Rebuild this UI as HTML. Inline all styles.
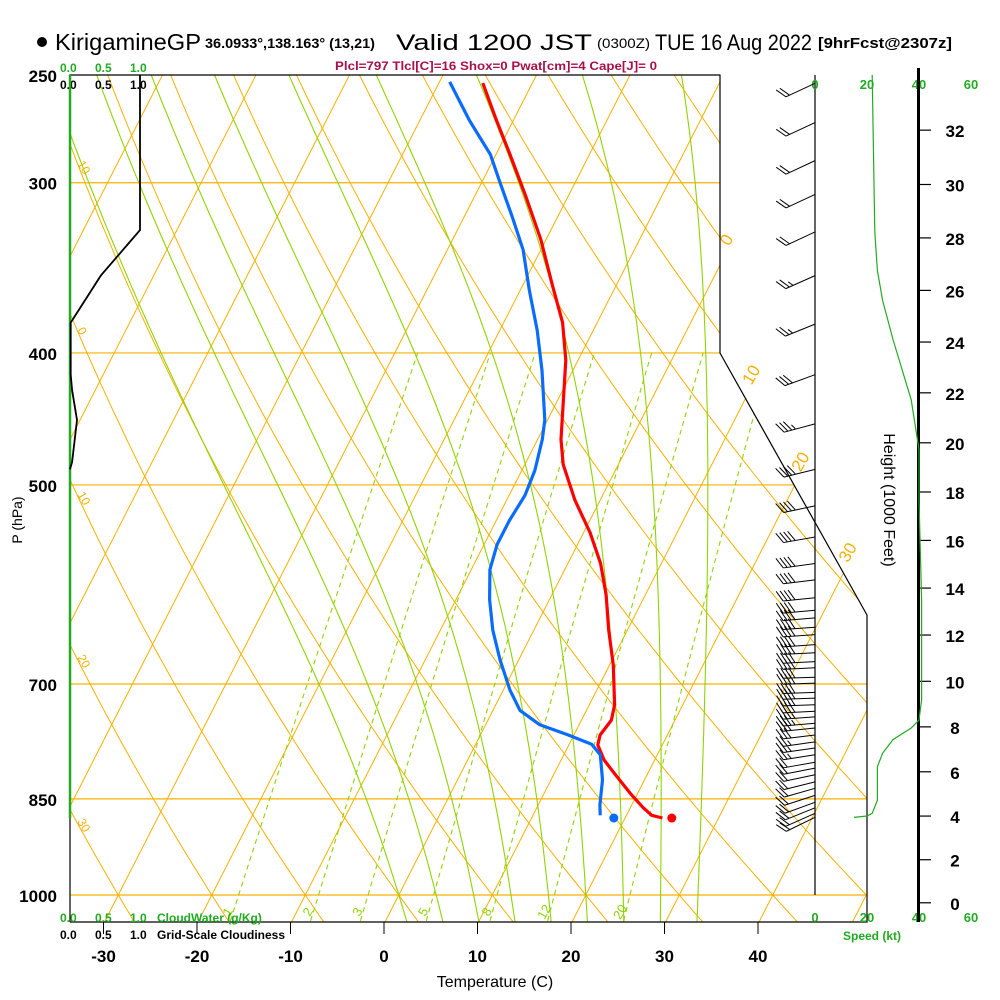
<!DOCTYPE html>
<html><head><meta charset="utf-8"><style>
html,body{margin:0;padding:0;background:#fff;}
svg{display:block;font-family:"Liberation Sans",sans-serif;}
</style></head><body>
<svg id="chart" width="1000" height="1000" viewBox="0 0 1000 1000" xmlns="http://www.w3.org/2000/svg">
<defs><clipPath id="plotclip"><polygon points="70,75 720,75 720,353 867,615 867,922 70,922"/></clipPath></defs>
<g id="header">
<circle cx="42" cy="42" r="5" fill="#000"/>
<text x="55" y="50" font-size="23" textLength="146" lengthAdjust="spacingAndGlyphs">KirigamineGP</text>
<text x="205" y="48" font-size="14" font-weight="bold" textLength="170" lengthAdjust="spacingAndGlyphs">36.0933°,138.163° (13,21)</text>
<text x="396" y="50" font-size="22" textLength="196" lengthAdjust="spacingAndGlyphs">Valid 1200 JST</text>
<text x="597" y="48" font-size="14" textLength="53" lengthAdjust="spacingAndGlyphs">(0300Z)</text>
<text x="655" y="50" font-size="22" textLength="157" lengthAdjust="spacingAndGlyphs">TUE 16 Aug 2022</text>
<text x="818" y="48" font-size="15" font-weight="bold" textLength="134" lengthAdjust="spacingAndGlyphs">[9hrFcst@2307z]</text>
<text x="335" y="70" font-size="12" font-weight="bold" fill="#a8104a" textLength="322" lengthAdjust="spacingAndGlyphs">Plcl=797 Tlcl[C]=16 Shox=0 Pwat[cm]=4 Cape[J]= 0</text>
</g>
<g id="grid" clip-path="url(#plotclip)"></g>
<g id="axes"></g>
<g id="series"></g>
<g id="winds"></g>
</svg>
<script>
// ---- data ----
const isobarLevels = [300, 400, 500, 700, 850, 1000];
const tempTicks = [-30, -20, -10, 0, 10, 20, 30, 40];
const isotherms = [-110,-100,-90,-80,-70,-60,-50,-40,-30,-20,-10,0,10,20,30,40,50];
const dryAdiabats = [-50,-40,-30,-20,-10,0,10,20,30,40,50,60,70,80,90,100,110,120,130];
const moistAdiabats = [0,4,8,12,16,20,24,28,32];
const mixingRatios = [1,2,3,5,8,12,20];
const mixingLabels = ["1","2","3","5","8","12","20"];
const tempP = [253.5,270,286,306,330,357,380,405,433,463,483,513,542,571,602,639,678,725,744,763,776,796,816,842,863,874,878];
const tempC = [-35.3,-31.8,-28.5,-24.7,-20.6,-16.8,-13.7,-11.3,-9.4,-7.5,-5.9,-2.7,0.7,3.5,5.8,8.0,10.4,12.7,13.2,12.8,13.1,14.6,16.6,19.2,21.4,22.7,24.0];
const dewP = [253,270,286,299,317,336,360,385,412,448,463,488,509,531,553,577,607,639,672,707,732,750,763,775,789,823,859,874];
const dewC = [-38.9,-34.7,-30.6,-28.2,-25.0,-21.9,-19.0,-16.0,-13.3,-10.3,-9.5,-8.6,-8.3,-8.6,-8.6,-8.0,-6.4,-4.4,-2.0,0.7,2.9,5.8,9.4,12.4,13.9,15.5,16.6,17.2];
const sfcP = 878;
const sfcTemp = 25.0;
const sfcDew = 18.8;
const windP = [253.6,271,289,306,326,351,381,415,451,487,518,546,571,587,605,618,626,636,644,655,664,674,681,692,699,710,717,725,733,740,748,754,763,772,780,789,799,807,816,826,835,845,855,863,871,877];
const windDir = [245,245,245,245,245,246,248,250,255,256,258,260,262,263,264,265,265,266,266,266,267,267,267,268,268,268,268,268,267,266,265,264,263,262,262,261,260,259,258,256,254,252,250,248,246,244];
const windSpd = [22,23,23,24,24,25,28,33,38,40,40,40,40,40,40,40,40,40,40,40,40,40,40,40,40,40,40,40,40,38,36,33,30,28,26,25,24,24,24,24,24,23,23,22,21,20];
const spdP = [250,326,348,366,391,433,471,513,607,719,744,754,769,787,805,852,871,875,877];
const spdKt = [22,23,24,26,30,37,40,40,41,41,40,37,30,26,24,24,22,20,15];
const cloudP = [250,325,351,380,415,426,448,481,487];
const cloudFrac = [1,1,0.44,0.01,0.01,0.03,0.1,0.03,0];
const heightTicks = [0,2,4,6,8,10,12,14,16,18,20,22,24,26,28,30,32];
const speedTicks = [0,20,40,60];
const isoLabelT = [0,10,20,30];
const isoLabelP = [332,417,483,563];
const dryLabelTheta = [10,0,-10,-20,-30];

// ---- scales ----
const Y = p => 895 + 591.6*Math.log(p/1000);
const X = (T,p) => 384 + 9.35*T + 0.51*(924 - Y(p));
const SX = kt => 815 + kt*2.6;
const CX = f => 70 + f*70;
const NS = "http://www.w3.org/2000/svg";
function mk(tag, attrs, parent){const e=document.createElementNS(NS,tag);for(const k in attrs)e.setAttribute(k,attrs[k]);parent.appendChild(e);return e;}
function pathD(pts){return pts.map((q,i)=>(i?'L':'M')+q[0].toFixed(1)+','+q[1].toFixed(1)).join('');}
const grid=document.getElementById('grid'),axes=document.getElementById('axes'),series=document.getElementById('series'),winds=document.getElementById('winds');
const ORANGE="#f7b000", GREEN="#8fd400";

// isobars
isobarLevels.forEach(p=>{const l=mk('line',{x1:70,x2:870,y1:Y(p),y2:Y(p),stroke:ORANGE,'stroke-width':1.2},grid);

});
// isotherms
isotherms.forEach(T=>{const l=mk('line',{x1:X(T,1060),y1:Y(1060),x2:X(T,240),y2:Y(240),stroke:ORANGE,'stroke-width':1},grid);

});
// dry adiabats
dryAdiabats.forEach(th=>{const pts=[];for(let p=1060;p>=240;p-=10){const T=(th+273.15)*Math.pow(p/1000,0.2857)-273.15;pts.push([X(T,p),Y(p)]);}
const e=mk('path',{d:pathD(pts),fill:'none',stroke:ORANGE,'stroke-width':1},grid);

});
// moist adiabats
function es(Tc){return 6.112*Math.exp(17.67*Tc/(Tc+243.5));}
function dTdp(Tc,p){const T=Tc+273.15,e=es(Tc),rs=0.622*e/(p-e),Lv=2.5e6,Rd=287,cp=1005;return (Rd*T+Lv*rs)/(p*(cp+Lv*Lv*rs*0.622/(Rd*T*T)));}
moistAdiabats.forEach(tw=>{let pts=[];let T=tw;for(let p=1000;p>=240;p-=5){pts.push([X(T,p),Y(p)]);T-=dTdp(T,p)*5;}
let down=[];T=tw;for(let p=1000;p<=1060;p+=5){T+=dTdp(T,p)*5;down.push([X(T,p+5),Y(p+5)]);}
pts=down.reverse().concat(pts);
const e=mk('path',{d:pathD(pts),fill:'none',stroke:GREEN,'stroke-width':1.1},grid);

});
// mixing ratio lines
function tdFromW(w,p){const e=w*p/(622+w);const a=Math.log(e/6.112);return 243.5*a/(17.67-a);}
mixingRatios.forEach((w,i)=>{const pts=[];for(let p=1060;p>=400;p-=10)pts.push([X(tdFromW(w,p),p),Y(p)]);
const e=mk('path',{d:pathD(pts),fill:'none',stroke:GREEN,'stroke-width':1.1,'stroke-dasharray':'5,4'},grid);


const lx=X(tdFromW(w,1025),1025)-6;
const t=mk('text',{x:lx,y:916,'font-size':13,fill:GREEN,transform:`rotate(-60 ${lx} 912)`,'text-anchor':'middle'},axes);t.textContent=mixingLabels[i];

});
// isotherm labels
isoLabelT.forEach((T,i)=>{const x=X(T,isoLabelP[i]),y=Y(isoLabelP[i]);const t=mk('text',{x:x,y:y,'font-size':17,fill:ORANGE,'text-anchor':'middle',transform:`rotate(-60 ${x} ${y})`},axes);t.textContent=String(T);

});
// dry adiabat labels on left edge
dryLabelTheta.forEach(th=>{let best=null;for(let p=250;p<=1040;p+=1){const T=(th+273.15)*Math.pow(p/1000,0.2857)-273.15;if(X(T,p)>=78){best=p;break;}}
if(!best)return;const y=Y(best)+2;const t=mk('text',{x:74,y:y,'font-size':12,fill:ORANGE,transform:`rotate(60 80 ${y})`},axes);t.textContent=String(Math.abs(th));

});

// frame
const frame=mk('polyline',{points:"70,922 70,75 720,75 720,353 867,615 867,922 70,922",fill:'none',stroke:'#000','stroke-width':1.2},axes);


// pressure labels
[250,300,400,500,700,850,1000].forEach(p=>{const t=mk('text',{x:57,y:Y(p)+7,'font-size':17,'font-weight':'bold','text-anchor':'end'},axes);t.textContent=String(p);

});
const pt=mk('text',{x:22,y:520,'font-size':14,'text-anchor':'middle',transform:'rotate(-90 22 520)'},axes);pt.textContent='P (hPa)';


// temperature ticks
tempTicks.forEach(T=>{const x=384+9.35*T;mk('line',{x1:x,x2:x,y1:922,y2:934,stroke:'#000'},axes);
const t=mk('text',{x:x,y:962,'font-size':17,'font-weight':'bold','text-anchor':'middle'},axes);t.textContent=String(T);

});
const tt=mk('text',{x:495,y:987,'font-size':16,'text-anchor':'middle'},axes);tt.textContent='Temperature (C)';


// cloud water / cloudiness axis labels
function txt(x,y,s,fs,fill,name,anchor){const t=mk('text',{x:x,y:y,'font-size':fs,fill:fill,'text-anchor':anchor||'start','font-weight':'bold'},axes);t.textContent=s;

return t;}
[["0.0",60],["0.5",95],["1.0",130]].forEach(a=>{txt(a[1],72,a[0],12,'#22aa22','cloudwater-top-label');txt(a[1],89,a[0],12,'#000','cloudiness-top-label');txt(a[1],922,a[0],12,'#22aa22','cloudwater-bottom-label');txt(a[1],939,a[0],12,'#000','cloudiness-bottom-label');});
txt(157,922,'CloudWater (g/Kg)',12,'#22aa22','cloudwater-title');
txt(157,939,'Grid-Scale Cloudiness',12,'#000','cloudiness-title');
// cloud water line (zero) and cloudiness
const cw=mk('line',{x1:70,x2:70,y1:75,y2:818,stroke:'#22aa22','stroke-width':2.5},series);


const cl=mk('path',{d:pathD(cloudP.map((p,i)=>[CX(cloudFrac[i]),Y(p)])),fill:'none',stroke:'#000','stroke-width':1.8},series);


// temperature & dewpoint
const tl=mk('path',{d:pathD(tempP.map((p,i)=>[X(tempC[i],p),Y(p)])),fill:'none',stroke:'#ff0000','stroke-width':3.2,'stroke-linejoin':'round'},series);


const dl=mk('path',{d:pathD(dewP.map((p,i)=>[X(dewC[i],p),Y(p)])),fill:'none',stroke:'#0a6cff','stroke-width':3.2,'stroke-linejoin':'round'},series);


const td=mk('circle',{cx:X(sfcTemp,sfcP),cy:Y(sfcP),r:4.5,fill:'#ff0000'},series);


const dd=mk('circle',{cx:X(sfcDew,sfcP),cy:Y(sfcP),r:4.5,fill:'#0a6cff'},series);



// speed axis
const sa=mk('line',{x1:815,x2:815,y1:75,y2:895,stroke:'#000','stroke-width':1.2},axes);


speedTicks.forEach(s=>{txt(SX(s),89,String(s),13,'#22aa22','speed-top-label','middle');txt(SX(s),922,String(s),13,'#22aa22','speed-bottom-label','middle');});
txt(872,940,'Speed (kt)',12,'#22aa22','speed-axis-title','middle');
const sp=mk('path',{d:pathD(spdP.map((p,i)=>[SX(spdKt[i]),Y(p)])),fill:'none',stroke:'#22aa22','stroke-width':1.2},series);


// height axis
const ha=mk('line',{x1:918.5,x2:918.5,y1:68,y2:922,stroke:'#000','stroke-width':3},axes);


heightTicks.forEach(h=>{const p=1013.25*Math.pow(1-2.25577e-5*h*304.8,5.25588);const y=Y(p);mk('line',{x1:918,x2:931,y1:y,y2:y,stroke:'#000','stroke-width':1.2},axes);
txt(955,y+7,String(h),17,'#000','height-tick-label','middle');});
const ht=mk('text',{x:884,y:500,'font-size':16,'text-anchor':'middle',transform:'rotate(90 884 500)'},axes);ht.textContent='Height (1000 Feet)';



// wind barbs
windP.forEach((p,i)=>{const y=Y(p),L=32,d=windDir[i]*Math.PI/180;const ux=Math.sin(d),uy=-Math.cos(d);
const tipx=815+ux*L,tipy=y+uy*L;const g=mk('g',{stroke:'#000','stroke-width':1,fill:'none'},winds);


mk('line',{x1:815,y1:y,x2:tipx,y2:tipy},g);
const a=Math.atan2(uy,ux)+60*Math.PI/180;const fx=Math.cos(a),fy=Math.sin(a);
let s=windSpd[i],k=0;
while(s>=10){const bx=tipx-ux*k*4,by=tipy-uy*k*4;mk('line',{x1:bx,y1:by,x2:bx+fx*12,y2:by+fy*12},g);s-=10;k++;}
if(s>=5){const bx=tipx-ux*k*4,by=tipy-uy*k*4;mk('line',{x1:bx,y1:by,x2:bx+fx*6,y2:by+fy*6},g);}
});
</script>
</body></html>
